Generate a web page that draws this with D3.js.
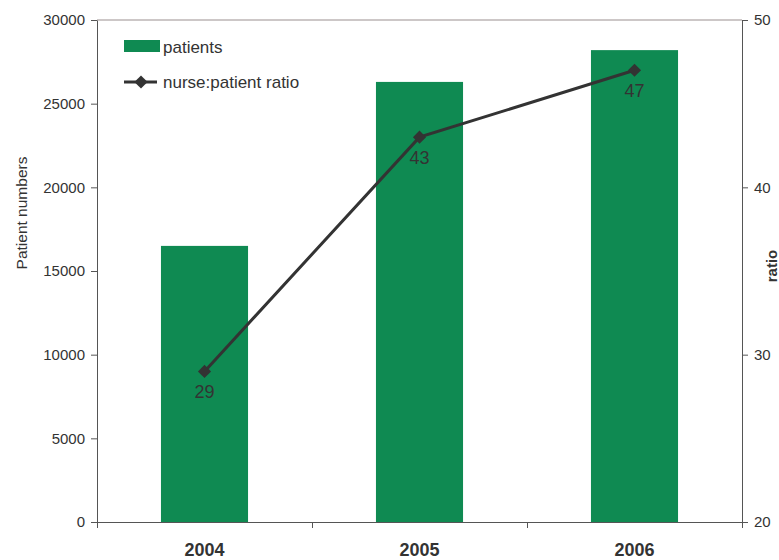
<!DOCTYPE html>
<html>
<head>
<meta charset="utf-8">
<script src="https://cdn.jsdelivr.net/npm/d3@7"></script>
<style>
  body { margin: 0; background: #fff; }
  text { font-family: "Liberation Sans", Arial, sans-serif; fill: #333; }
</style>
</head>
<body>
<svg id="chart" width="779" height="560"></svg>
<script>
"use strict";

var years = ["2004", "2005", "2006"];
var patients = [16500, 26300, 28200];
var ratios = [29, 43, 47];
var leftTicks = [0, 5000, 10000, 15000, 20000, 25000, 30000];
var rightTicks = [20, 30, 40, 50];

(function () {
    var margin = { top: 20, right: 37, bottom: 38, left: 97 },
        chartWidth = 779 - margin.left - margin.right,
        chartHeight = 560 - margin.top - margin.bottom;

    var svg = d3.select("#chart")
        .append("g")
        .attr("transform", "translate(" + margin.left + "," + margin.top + ")");

    var xScale = d3.scaleBand()
        .domain(years)
        .range([0, chartWidth])
        .paddingInner(0.595)
        .paddingOuter(0.2975);

    var xEdges = d3.scaleLinear().domain([0, years.length]).range([0, chartWidth]);

    var yLeft = d3.scaleLinear().domain([0, 30000]).range([chartHeight, 0]);
    var yRight = d3.scaleLinear().domain([20, 50]).range([chartHeight, 0]);

    // top border
    svg.append("line")
        .attr("x1", 0).attr("x2", chartWidth)
        .attr("y1", 0).attr("y2", 0)
        .attr("stroke", "#9a8f8f").attr("stroke-width", 1);

    // Bars
    svg.selectAll(".bar")
        .data(years)
        .enter()
        .append("rect")
        .attr("class", "bar")
        .attr("x", function (d) { return xScale(d); })
        .attr("y", function (d, i) { return yLeft(patients[i]); })
        .attr("width", xScale.bandwidth())
        .attr("height", function (d, i) { return chartHeight - yLeft(patients[i]); })
        .attr("fill", "#0f8a52");

    // left axis
    var leftAxis = svg.append("g")
        .call(d3.axisLeft(yLeft).tickValues(leftTicks).tickFormat(d3.format("d"))
            .tickSize(6).tickSizeOuter(0).tickPadding(6));
    leftAxis.selectAll("text").style("font-size", "15px");

    // right axis
    var rightAxis = svg.append("g")
        .attr("transform", "translate(" + chartWidth + ",0)")
        .call(d3.axisRight(yRight).tickValues(rightTicks).tickSize(6).tickSizeOuter(0).tickPadding(6));
    rightAxis.selectAll("text").style("font-size", "15px");

    // bottom axis: ticks at category edges
    svg.append("g")
        .attr("transform", "translate(0," + chartHeight + ")")
        .call(d3.axisBottom(xEdges).tickValues(d3.range(years.length + 1)).tickSize(6).tickSizeOuter(0).tickFormat(""));

    svg.selectAll(".domain, .tick line").attr("stroke", "#555");
    svg.selectAll(".tick text").attr("fill", "#333");

    svg.selectAll(".yearLabel")
        .data(years)
        .enter()
        .append("text")
        .attr("class", "yearLabel")
        .attr("x", function (d) { return xScale(d) + xScale.bandwidth() / 2; })
        .attr("y", chartHeight + 34)
        .attr("text-anchor", "middle")
        .style("font-size", "18px")
        .style("font-weight", "bold")
        .text(function (d) { return d; });

    // Line
    var line = d3.line()
        .x(function (d, i) { return xScale(years[i]) + xScale.bandwidth() / 2; })
        .y(function (d) { return yRight(d); });

    svg.append("path")
        .datum(ratios)
        .attr("d", line)
        .attr("fill", "none")
        .attr("stroke", "#333")
        .attr("stroke-width", 3);

    var diamond = d3.symbol().type(d3.symbolDiamond2).size(110);

    svg.selectAll(".marker")
        .data(ratios)
        .enter()
        .append("path")
        .attr("class", "marker")
        .attr("d", diamond)
        .attr("transform", function (d, i) {
            return "translate(" + (xScale(years[i]) + xScale.bandwidth() / 2) + "," + yRight(d) + ")";
        })
        .attr("fill", "#333");

    svg.selectAll(".valLabel")
        .data(ratios)
        .enter()
        .append("text")
        .attr("class", "valLabel")
        .attr("x", function (d, i) { return xScale(years[i]) + xScale.bandwidth() / 2; })
        .attr("y", function (d) { return yRight(d) + 27; })
        .attr("text-anchor", "middle")
        .style("font-size", "18px")
        .text(function (d) { return d; });

    // Y axis titles
    svg.append("text")
        .attr("text-anchor", "middle")
        .attr("transform", "rotate(-90)")
        .attr("x", -193)
        .attr("y", -margin.left + 27)
        .style("font-size", "15.5px")
        .text("Patient numbers");

    svg.append("text")
        .attr("text-anchor", "middle")
        .attr("transform", "rotate(-90)")
        .attr("x", -246)
        .attr("y", chartWidth + 35)
        .style("font-size", "15px")
        .style("font-weight", "bold")
        .text("ratio");

    // Legend
    var legend = svg.append("g").attr("transform", "translate(27,20)");
    legend.append("rect")
        .attr("x", 0).attr("y", 0)
        .attr("width", 36).attr("height", 12)
        .attr("fill", "#0f8a52");
    legend.append("text")
        .attr("x", 39).attr("y", 13)
        .style("font-size", "17px")
        .text("patients");
    legend.append("line")
        .attr("x1", 0).attr("x2", 33)
        .attr("y1", 42).attr("y2", 42)
        .attr("stroke", "#333").attr("stroke-width", 3);
    legend.append("path")
        .attr("d", diamond)
        .attr("transform", "translate(17,42)")
        .attr("fill", "#333");
    legend.append("text")
        .attr("x", 39).attr("y", 48)
        .style("font-size", "17px")
        .text("nurse:patient ratio");
})();
</script>
</body>
</html>
